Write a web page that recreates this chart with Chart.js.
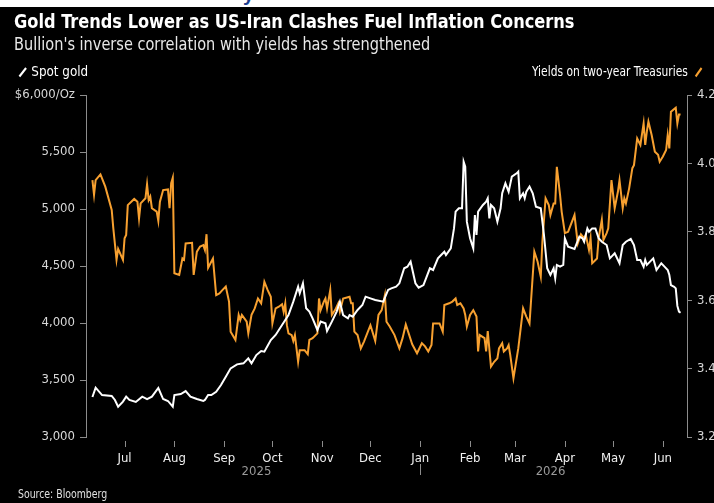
<!DOCTYPE html>
<html><head><meta charset="utf-8">
<script src="https://cdn.jsdelivr.net/npm/chart.js@4.4.0/dist/chart.umd.min.js"></script>
<style>
html,body{margin:0;padding:0;background:#000;}
body{width:714px;height:503px;position:relative;overflow:hidden;font-family:"Liberation Sans Narrow","DejaVu Sans Condensed",sans-serif;color:#fff;}
#c{position:absolute;left:0;top:0;}
#topstrip{position:absolute;left:0;top:0;width:714px;height:7px;background:#fff;overflow:hidden;}
#topstrip span{position:absolute;left:243px;top:-17px;font:bold 20px "Liberation Sans",sans-serif;color:#1d3f8f;}
.t{position:absolute;white-space:nowrap;transform-origin:0 50%;}
#title{left:14px;top:9px;font-weight:bold;font-size:20px;transform:scaleX(0.9);}
#sub{left:14px;top:34px;font-size:17px;color:#e8e8e8;transform:scaleX(0.95);}
#leg1{left:18px;top:63px;font-size:14px;transform:scaleX(0.95);}
#leg2{left:532px;top:63px;font-size:14px;transform:scaleX(0.85);}
#src{left:18px;top:486px;font-size:13px;color:#e0e0e0;transform:scaleX(0.8);}
svg{vertical-align:middle;}
</style></head>
<body>
<canvas id="c" width="714" height="503"></canvas>
<div id="topstrip"><span>y</span></div>
<div class="t" id="title">Gold Trends Lower as US-Iran Clashes Fuel Inflation Concerns</div>
<div class="t" id="sub">Bullion's inverse correlation with yields has strengthened</div>
<div class="t" id="leg1"><svg width="10" height="12"><line x1="1.5" y1="10.5" x2="8.5" y2="2" stroke="#fff" stroke-width="2.2"/></svg>&nbsp;Spot gold</div>
<div class="t" id="leg2">Yields on two-year Treasuries&nbsp;&nbsp;<svg width="10" height="12"><line x1="1.5" y1="10.5" x2="8.5" y2="2" stroke="#f7a030" stroke-width="2.4"/></svg></div>
<div class="t" id="src">Source: Bloomberg</div>
<script>
// ---- data ----
const goldDates = ["2025-06-11","2025-06-13","2025-06-17","2025-06-23","2025-06-25","2025-06-27","2025-06-30","2025-07-02","2025-07-04","2025-07-08","2025-07-12","2025-07-15","2025-07-18","2025-07-22","2025-07-25","2025-07-28","2025-07-31","2025-08-01","2025-08-05","2025-08-08","2025-08-11","2025-08-15","2025-08-19","2025-08-20","2025-08-22","2025-08-24","2025-08-27","2025-08-30","2025-09-02","2025-09-05","2025-09-09","2025-09-13","2025-09-16","2025-09-18","2025-09-21","2025-09-24","2025-09-26","2025-09-30","2025-10-03","2025-10-07","2025-10-11","2025-10-14","2025-10-17","2025-10-18","2025-10-20","2025-10-22","2025-10-24","2025-10-26","2025-10-29","2025-10-31","2025-11-03","2025-11-04","2025-11-07","2025-11-10","2025-11-12","2025-11-14","2025-11-17","2025-11-18","2025-11-20","2025-11-23","2025-11-26","2025-11-28","2025-12-01","2025-12-04","2025-12-09","2025-12-12","2025-12-14","2025-12-17","2025-12-19","2025-12-22","2025-12-24","2025-12-26","2025-12-29","2025-12-31","2026-01-03","2026-01-07","2026-01-09","2026-01-12","2026-01-14","2026-01-16","2026-01-17","2026-01-20","2026-01-22","2026-01-23","2026-01-25","2026-01-27","2026-01-28","2026-01-29","2026-01-30","2026-02-01","2026-02-03","2026-02-04","2026-02-05","2026-02-06","2026-02-09","2026-02-11","2026-02-12","2026-02-13","2026-02-14","2026-02-16","2026-02-18","2026-02-20","2026-02-21","2026-02-23","2026-02-25","2026-02-27","2026-03-02","2026-03-03","2026-03-04","2026-03-06","2026-03-07","2026-03-08","2026-03-10","2026-03-12","2026-03-14","2026-03-17","2026-03-19","2026-03-21","2026-03-23","2026-03-25","2026-03-26","2026-03-27","2026-03-29","2026-03-31","2026-04-01","2026-04-03","2026-04-07","2026-04-10","2026-04-12","2026-04-13","2026-04-15","2026-04-16","2026-04-18","2026-04-20","2026-04-22","2026-04-24","2026-04-27","2026-04-29","2026-05-02","2026-05-05","2026-05-07","2026-05-09","2026-05-12","2026-05-14","2026-05-16","2026-05-18","2026-05-20","2026-05-21","2026-05-22","2026-05-24","2026-05-26","2026-05-28","2026-05-31","2026-06-02","2026-06-04","2026-06-05","2026-06-06","2026-06-08","2026-06-09","2026-06-10","2026-06-11","2026-06-12"];
const goldValues = [3351,3433,3368,3360,3325,3266,3310,3354,3325,3307,3354,3333,3354,3430,3333,3316,3266,3368,3377,3403,3354,3333,3316,3325,3368,3368,3397,3456,3529,3602,3637,3646,3690,3646,3719,3754,3748,3851,3895,3982,4070,4187,4318,4260,4348,4129,4100,4041,3939,4012,3997,3930,4012,4100,4187,4070,4041,4070,4056,4114,4158,4231,4216,4202,4187,4290,4304,4318,4348,4480,4494,4538,4348,4310,4333,4480,4465,4567,4596,4625,4596,4655,4830,4977,5006,5006,5415,5371,4889,4743,4655,4947,4772,4977,5035,5064,5094,4918,5035,5006,4889,5006,5138,5225,5152,5284,5313,5328,5094,5138,5094,5152,5196,5138,5020,5006,4772,4480,4421,4480,4392,4509,4494,4509,4743,4670,4649,4757,4743,4713,4830,4801,4830,4830,4743,4713,4684,4567,4611,4524,4684,4713,4737,4684,4553,4553,4494,4553,4509,4538,4567,4465,4524,4494,4465,4421,4333,4318,4304,4150,4100,4090];

const yieldDates = ["2025-06-11","2025-06-12","2025-06-13","2025-06-16","2025-06-19","2025-06-23","2025-06-24","2025-06-26","2025-06-27","2025-06-30","2025-07-01","2025-07-02","2025-07-03","2025-07-07","2025-07-09","2025-07-10","2025-07-11","2025-07-14","2025-07-15","2025-07-16","2025-07-17","2025-07-18","2025-07-21","2025-07-22","2025-07-23","2025-07-25","2025-07-28","2025-07-29","2025-07-30","2025-07-31","2025-08-01","2025-08-04","2025-08-06","2025-08-07","2025-08-08","2025-08-12","2025-08-13","2025-08-15","2025-08-17","2025-08-19","2025-08-20","2025-08-21","2025-08-22","2025-08-25","2025-08-27","2025-08-29","2025-08-31","2025-09-02","2025-09-04","2025-09-05","2025-09-08","2025-09-10","2025-09-11","2025-09-12","2025-09-15","2025-09-16","2025-09-18","2025-09-20","2025-09-22","2025-09-24","2025-09-26","2025-09-28","2025-09-30","2025-10-01","2025-10-03","2025-10-05","2025-10-07","2025-10-08","2025-10-09","2025-10-10","2025-10-11","2025-10-13","2025-10-14","2025-10-15","2025-10-17","2025-10-18","2025-10-21","2025-10-23","2025-10-24","2025-10-26","2025-10-29","2025-10-30","2025-10-31","2025-11-02","2025-11-03","2025-11-04","2025-11-06","2025-11-07","2025-11-09","2025-11-11","2025-11-12","2025-11-14","2025-11-18","2025-11-19","2025-11-20","2025-11-21","2025-11-23","2025-11-25","2025-11-27","2025-11-29","2025-12-01","2025-12-04","2025-12-06","2025-12-08","2025-12-10","2025-12-11","2025-12-13","2025-12-16","2025-12-19","2025-12-21","2025-12-23","2025-12-25","2025-12-27","2025-12-30","2026-01-02","2026-01-04","2026-01-06","2026-01-08","2026-01-09","2026-01-13","2026-01-15","2026-01-16","2026-01-19","2026-01-21","2026-01-23","2026-01-24","2026-01-26","2026-01-28","2026-01-29","2026-01-30","2026-02-01","2026-02-03","2026-02-05","2026-02-06","2026-02-07","2026-02-10","2026-02-11","2026-02-12","2026-02-14","2026-02-16","2026-02-18","2026-02-19","2026-02-21","2026-02-22","2026-02-24","2026-02-25","2026-02-26","2026-02-28","2026-03-03","2026-03-06","2026-03-08","2026-03-10","2026-03-13","2026-03-15","2026-03-17","2026-03-18","2026-03-20","2026-03-22","2026-03-23","2026-03-25","2026-03-26","2026-03-27","2026-03-29","2026-03-30","2026-04-01","2026-04-03","2026-04-07","2026-04-09","2026-04-11","2026-04-13","2026-04-14","2026-04-16","2026-04-17","2026-04-18","2026-04-21","2026-04-22","2026-04-24","2026-04-25","2026-04-27","2026-04-28","2026-04-30","2026-05-02","2026-05-04","2026-05-05","2026-05-07","2026-05-08","2026-05-09","2026-05-11","2026-05-13","2026-05-14","2026-05-16","2026-05-18","2026-05-20","2026-05-21","2026-05-22","2026-05-23","2026-05-25","2026-05-27","2026-05-29","2026-05-30","2026-06-01","2026-06-03","2026-06-04","2026-06-05","2026-06-06","2026-06-09","2026-06-10","2026-06-11","2026-06-12"];
const yieldValues = [3.951,3.908,3.951,3.968,3.932,3.864,3.810,3.718,3.750,3.718,3.781,3.791,3.878,3.896,3.888,3.839,3.883,3.898,3.939,3.893,3.903,3.869,3.859,3.832,3.888,3.922,3.924,3.869,3.942,3.958,3.679,3.674,3.722,3.718,3.766,3.768,3.674,3.742,3.757,3.761,3.747,3.793,3.695,3.722,3.615,3.620,3.630,3.640,3.596,3.508,3.484,3.557,3.542,3.557,3.537,3.503,3.557,3.576,3.605,3.591,3.654,3.630,3.610,3.532,3.576,3.581,3.588,3.566,3.591,3.527,3.503,3.498,3.481,3.498,3.420,3.454,3.454,3.442,3.484,3.489,3.503,3.605,3.571,3.596,3.605,3.576,3.630,3.557,3.571,3.591,3.566,3.605,3.610,3.591,3.591,3.508,3.498,3.459,3.479,3.503,3.527,3.481,3.557,3.571,3.615,3.537,3.523,3.498,3.459,3.489,3.529,3.500,3.471,3.445,3.474,3.465,3.450,3.469,3.532,3.532,3.508,3.586,3.591,3.596,3.605,3.586,3.591,3.576,3.557,3.523,3.557,3.571,3.552,3.450,3.498,3.489,3.450,3.510,3.406,3.420,3.430,3.459,3.474,3.450,3.459,3.469,3.440,3.372,3.459,3.576,3.552,3.532,3.742,3.713,3.669,3.771,3.898,3.878,3.849,3.883,3.883,3.990,3.908,3.859,3.796,3.800,3.849,3.766,3.793,3.781,3.791,3.747,3.781,3.708,3.722,3.781,3.835,3.776,3.796,3.810,3.951,3.869,3.917,3.951,3.869,3.898,3.883,3.927,3.986,3.995,4.073,4.054,4.117,4.054,4.093,4.122,4.083,4.034,4.025,4.005,4.020,4.039,4.083,4.044,4.151,4.163,4.117,4.143,4.143];

const monthTickDates = ["2025-07-01","2025-08-01","2025-09-01","2025-10-01","2025-11-01","2025-12-01","2026-01-01","2026-02-01","2026-03-01","2026-04-01","2026-05-01","2026-06-01"];
const monthLabels = ["Jul","Aug","Sep","Oct","Nov","Dec","Jan","Feb","Mar","Apr","May","Jun"];
const yearLabels = ["2025","2026"];
const yearBoundary = "2026-01-01";
const goldTicks = [3000,3500,4000,4500,5000,5500,6000];
const yieldTicks = [3.2,3.4,3.6,3.8,4.0,4.2];

// ---- helpers ----
const BASE = Date.UTC(2025,6,1);
function dayIndex(s){const p=s.split('-').map(Number);return (Date.UTC(p[0],p[1]-1,p[2])-BASE)/86400000;}
const FONT = '"Liberation Sans Narrow","DejaVu Sans Condensed",sans-serif';
Chart.defaults.font.family = FONT;

const decor = {
  id:'decor',
  afterDraw(chart){
    const {ctx, chartArea, scales} = chart; const x = scales.x;
    ctx.save();
    ctx.strokeStyle = '#8c8c8c'; ctx.lineWidth = 1;
    monthTickDates.forEach(d=>{
      const px = Math.round(x.getPixelForValue(dayIndex(d)))+0.5;
      ctx.beginPath(); ctx.moveTo(px, chartArea.bottom+4); ctx.lineTo(px, chartArea.bottom+10); ctx.stroke();
    });
    const bx = Math.round(x.getPixelForValue(dayIndex(yearBoundary)))+0.5;
    ctx.beginPath(); ctx.moveTo(bx, chartArea.bottom+27); ctx.lineTo(bx, chartArea.bottom+38); ctx.stroke();
    const first = x.getPixelForValue(dayIndex(goldDates[0]));
    const last = x.getPixelForValue(dayIndex(goldDates[goldDates.length-1]));
    ctx.fillStyle = '#9a9a9a'; ctx.font = '13px '+FONT; ctx.textAlign='center'; ctx.textBaseline='middle';
    ctx.fillText(yearLabels[0], (first+bx)/2, chartArea.bottom+35);
    ctx.fillText(yearLabels[1], (bx+last)/2, chartArea.bottom+35);
    ctx.restore();
  }
};

new Chart(document.getElementById('c'), {
  type:'line',
  data:{datasets:[
    {label:'Spot gold', data:goldDates.map((d,i)=>({x:dayIndex(d),y:goldValues[i]})), yAxisID:'yL', borderColor:'#ffffff', borderWidth:2, pointRadius:0, tension:0},
    {label:'Yields on two-year Treasuries', data:yieldDates.map((d,i)=>({x:dayIndex(d),y:yieldValues[i]})), yAxisID:'yR', borderColor:'#f7a030', borderWidth:2, pointRadius:0, tension:0}
  ]},
  options:{
    responsive:false, animation:false, events:[],
    layout:{padding:{top:95,left:0,right:0,bottom:0}},
    plugins:{legend:{display:false}, tooltip:{enabled:false}},
    scales:{
      x:{type:'linear', min:dayIndex("2025-06-07"), max:dayIndex("2026-06-16"),
        afterBuildTicks:s=>{s.ticks = monthTickDates.map(d=>({value:dayIndex(d)}));},
        afterFit:s=>{s.height = 66;},
        grid:{display:false, drawTicks:false}, border:{display:false},
        ticks:{color:'#f0f0f0', font:{size:13}, padding:14, maxRotation:0, autoSkip:false,
          callback:(v,i)=>monthLabels[i]}},
      yL:{position:'left', min:3000, max:6000,
        afterBuildTicks:s=>{s.ticks = goldTicks.map(v=>({value:v}));},
        afterFit:s=>{s.width = 86;},
        grid:{display:true, drawOnChartArea:false, drawTicks:true, tickLength:6, color:'#8c8c8c'},
        border:{display:true, color:'#8c8c8c'},
        ticks:{color:'#d8d8d8', font:{size:13}, padding:5,
          callback:v=> v===6000 ? '$6,000/Oz' : v.toLocaleString('en-US')}},
      yR:{position:'right', min:3.2, max:4.2,
        afterBuildTicks:s=>{s.ticks = yieldTicks.map(v=>({value:v}));},
        afterFit:s=>{s.width = 27;},
        grid:{display:true, drawOnChartArea:false, drawTicks:true, tickLength:5, color:'#8c8c8c'},
        border:{display:true, color:'#8c8c8c'},
        ticks:{color:'#d8d8d8', font:{size:13}, padding:5,
          callback:v=> Math.abs(v-4.2)<1e-9 ? '4.2%' : v.toFixed(1)}}
    }
  },
  plugins:[decor]
});
</script>
</body></html>
